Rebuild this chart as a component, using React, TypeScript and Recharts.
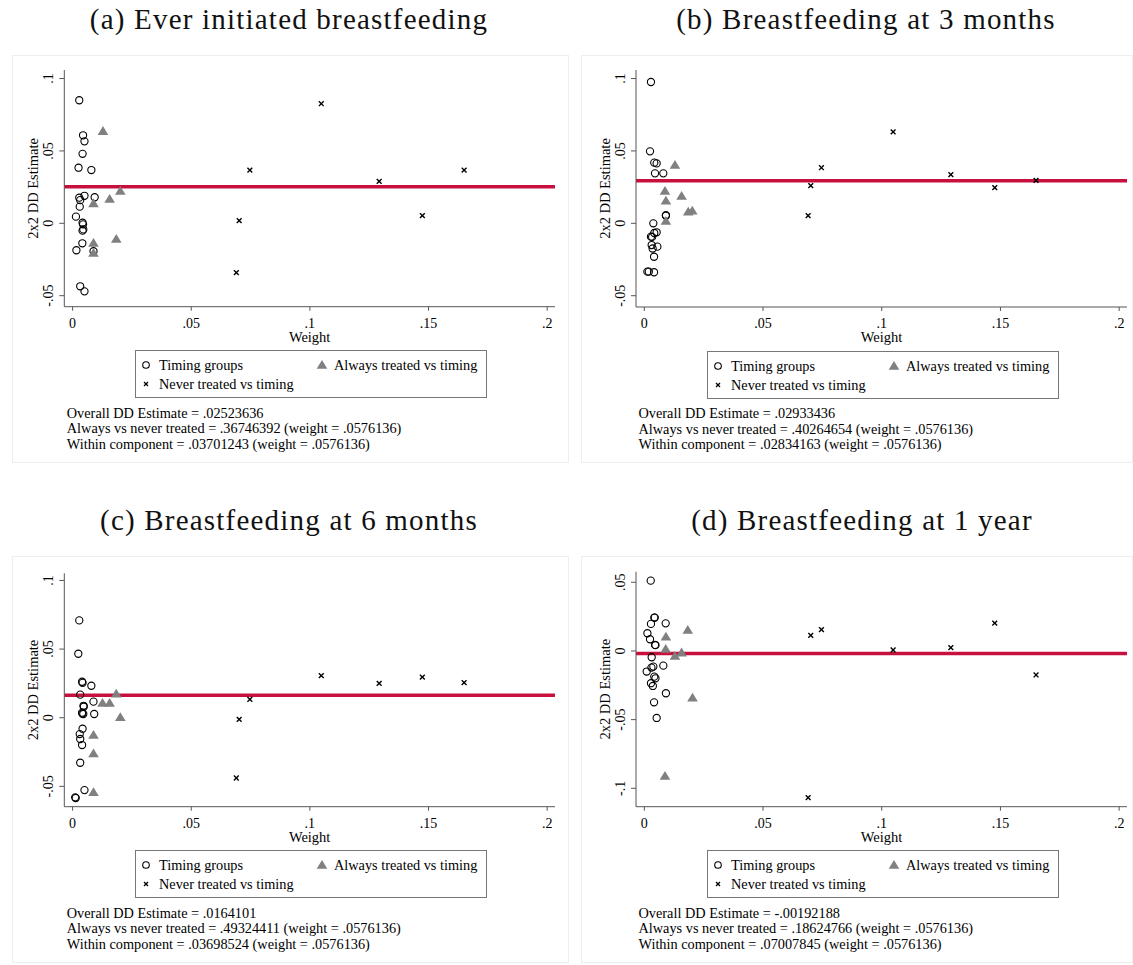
import React from 'react';
import { ScatterChart, Scatter, XAxis, YAxis, ReferenceLine, Label } from 'recharts';

const SERIF = '"Liberation Serif", "Times New Roman", serif';
const RED = '#c8103e';
const GREY = '#808080';
const AXIS = '#555';

// weight, 2x2 estimate
// (a) Ever initiated breastfeeding
const aTiming: [number, number][] = [
  [0.0028, 0.085], [0.0044, 0.0608], [0.005, 0.0566], [0.0042, 0.048], [0.0025, 0.0384],
  [0.0079, 0.0368], [0.005, 0.019], [0.0093, 0.018], [0.0028, 0.0177], [0.0032, 0.016],
  [0.003, 0.0115], [0.0014, 0.0046], [0.0042, 0.0004], [0.0044, -0.0007], [0.0042, -0.0051],
  [0.0045, -0.0042], [0.0041, -0.0138], [0.0016, -0.0186], [0.0088, -0.0193], [0.0032, -0.0435],
  [0.005, -0.047],
];
const aAlways: [number, number][] = [
  [0.0128, 0.0637], [0.0201, 0.0223], [0.0156, 0.0168], [0.0088, 0.0138], [0.0088, -0.0136],
  [0.0184, -0.0108], [0.0088, -0.0205],
];
const aNever: [number, number][] = [
  [0.1048, 0.0826], [0.0747, 0.0368], [0.1292, 0.029], [0.165, 0.0368], [0.0702, 0.0018],
  [0.1474, 0.0053], [0.069, -0.0341],
];
const aOverall = 0.02523636;
const aNotes = [
  'Overall DD Estimate = .02523636',
  'Always vs never treated = .36746392 (weight = .0576136)',
  'Within component = .03701243 (weight = .0576136)',
];

// (b) Breastfeeding at 3 months
const bTiming: [number, number][] = [
  [0.0028, 0.0976], [0.0024, 0.0497], [0.0042, 0.0419], [0.0052, 0.0414], [0.0045, 0.0345],
  [0.008, 0.0345], [0.0091, 0.0057], [0.0091, 0.0052], [0.0038, 0.0], [0.0052, -0.0062],
  [0.0028, -0.0092], [0.0033, -0.0094], [0.0042, -0.0067], [0.0031, -0.015], [0.0055, -0.0161],
  [0.0035, -0.0174], [0.0041, -0.0231], [0.0013, -0.0334], [0.0019, -0.0334], [0.0041, -0.0338],
];
const bAlways: [number, number][] = [
  [0.0129, 0.0403], [0.0087, 0.0223], [0.0157, 0.0189], [0.0091, 0.0156], [0.0185, 0.008],
  [0.0202, 0.0087], [0.0091, 0.0016],
];
const bNever: [number, number][] = [
  [0.1048, 0.0631], [0.0746, 0.0384], [0.0701, 0.026], [0.1291, 0.0336], [0.1476, 0.0246],
  [0.165, 0.0297], [0.069, 0.0053],
];
const bOverall = 0.02933436;
const bNotes = [
  'Overall DD Estimate = .02933436',
  'Always vs never treated = .40264654 (weight = .0576136)',
  'Within component = .02834163 (weight = .0576136)',
];

// (c) Breastfeeding at 6 months
const cTiming: [number, number][] = [
  [0.0028, 0.0709], [0.0024, 0.0466], [0.004, 0.0262], [0.0042, 0.0254], [0.0079, 0.0233],
  [0.0032, 0.0168], [0.0088, 0.0117], [0.0046, 0.0087], [0.0047, 0.008], [0.004, 0.0037],
  [0.0041, 0.003], [0.0045, 0.0027], [0.0091, 0.0027], [0.0042, -0.008], [0.003, -0.0119],
  [0.0032, -0.0155], [0.004, -0.0199], [0.0032, -0.0328], [0.005, -0.0527], [0.0011, -0.058],
  [0.0013, -0.0585],
];
const cAlways: [number, number][] = [
  [0.0184, 0.0175], [0.0126, 0.0107], [0.0156, 0.0107], [0.0201, 0.0003], [0.0088, -0.0126],
  [0.0088, -0.026], [0.0088, -0.0543],
];
const cNever: [number, number][] = [
  [0.1048, 0.0306], [0.1292, 0.025], [0.1474, 0.0296], [0.165, 0.0255], [0.0747, 0.0134],
  [0.0702, -0.0012], [0.069, -0.0439],
];
const cOverall = 0.0164101;
const cNotes = [
  'Overall DD Estimate = .0164101',
  'Always vs never treated = .49324411 (weight = .0576136)',
  'Within component = .03698524 (weight = .0576136)',
];

// (d) Breastfeeding at 1 year
const dTiming: [number, number][] = [
  [0.0027, 0.0512], [0.0042, 0.0243], [0.0044, 0.0243], [0.009, 0.0201], [0.0028, 0.0197],
  [0.0013, 0.0129], [0.0024, 0.0085], [0.0045, 0.0044], [0.0047, 0.0042], [0.0031, -0.0046],
  [0.008, -0.0107], [0.0038, -0.0114], [0.003, -0.0121], [0.001, -0.015], [0.0042, -0.0187],
  [0.0047, -0.0199], [0.0028, -0.0235], [0.0036, -0.0255], [0.0091, -0.0308], [0.0041, -0.0374],
  [0.0052, -0.0488],
];
const dAlways: [number, number][] = [
  [0.0183, 0.0153], [0.0091, 0.0104], [0.009, 0.0015], [0.0157, -0.0012], [0.0129, -0.0036],
  [0.0203, -0.034], [0.0087, -0.091],
];
const dNever: [number, number][] = [
  [0.0701, 0.0114], [0.0746, 0.0155], [0.1048, 0.0007], [0.1291, 0.0024], [0.1476, 0.0202],
  [0.165, -0.0175], [0.069, -0.1068],
];
const dOverall = -0.00192188;
const dNotes = [
  'Overall DD Estimate = -.00192188',
  'Always vs never treated = .18624766 (weight = .0576136)',
  'Within component = .07007845 (weight = .0576136)',
];

const xTicks = [0, 0.05, 0.1, 0.15, 0.2];
const yTicksHigh = [-0.05, 0, 0.05, 0.1];
const yTicksLow = [-0.1, -0.05, 0, 0.05];

const PANELS = [
  {
    title: '(a) Ever initiated breastfeeding', timing: aTiming, always: aAlways, never: aNever,
    overall: aOverall, notes: aNotes, yTicks: yTicksHigh, yDomain: [-0.0576, 0.1059],
    box: { x: 12, y: 55, w: 557, h: 408 }, plot: { x0: 64.3, x1: 555, y0: 70, y1: 306.7 }, titleX: 289,
  },
  {
    title: '(b) Breastfeeding at 3 months', timing: bTiming, always: bAlways, never: bNever,
    overall: bOverall, notes: bNotes, yTicks: yTicksHigh, yDomain: [-0.0578, 0.1059],
    box: { x: 581, y: 55, w: 552, h: 408 }, plot: { x0: 636, x1: 1127, y0: 70, y1: 307 }, titleX: 866,
  },
  {
    title: '(c) Breastfeeding at 6 months', timing: cTiming, always: cAlways, never: cNever,
    overall: cOverall, notes: cNotes, yTicks: yTicksHigh, yDomain: [-0.0648, 0.1052],
    box: { x: 12, y: 556, w: 557, h: 407 }, plot: { x0: 64.3, x1: 555, y0: 573.3, y1: 806.7 }, titleX: 289,
  },
  {
    title: '(d) Breastfeeding at 1 year', timing: dTiming, always: dAlways, never: dNever,
    overall: dOverall, notes: dNotes, yTicks: yTicksLow, yDomain: [-0.1134, 0.0577],
    box: { x: 581, y: 556, w: 552, h: 407 }, plot: { x0: 636, x1: 1127, y0: 571.7, y1: 806.7 }, titleX: 862,
  },
];

const fmtTick = (v: number) => (v === 0 ? '0' : String(v).replace('0.', '.'));
const toPts = (arr: [number, number][]) => arr.map(([w, est]) => ({ w, est }));

const HollowCircle = (p: any) => (
  <circle cx={p.cx} cy={p.cy} r={3.6} fill="none" stroke="#000" strokeWidth={1.1} />
);
const Tri = (p: any) => (
  <polygon
    points={`${p.cx},${p.cy - 5} ${p.cx + 5.3},${p.cy + 3.8} ${p.cx - 5.3},${p.cy + 3.8}`}
    fill={GREY}
  />
);
const Cross = (p: any) => (
  <g stroke="#000" strokeWidth={1.4}>
    <line x1={p.cx - 2.4} y1={p.cy - 2.4} x2={p.cx + 2.4} y2={p.cy + 2.4} />
    <line x1={p.cx - 2.4} y1={p.cy + 2.4} x2={p.cx + 2.4} y2={p.cy - 2.4} />
  </g>
);

const YTick = (props: any) => {
  const { x, y, payload } = props;
  const bx = x - 4;
  return (
    <text x={bx} y={y} transform={`rotate(-90 ${bx} ${y})`} textAnchor="middle"
      fontSize={14} fontFamily={SERIF} fill="#000">
      {fmtTick(payload.value)}
    </text>
  );
};

const YLabel = (props: any) => {
  const vb = props.viewBox;
  const x = vb.x + vb.width - 26;
  const y = vb.y + vb.height / 2;
  return (
    <text x={x} y={y} transform={`rotate(-90 ${x} ${y})`} textAnchor="middle"
      fontSize={14.5} fontFamily={SERIF} fill="#000">
      2x2 DD Estimate
    </text>
  );
};

const XLabel = (props: any) => {
  const vb = props.viewBox;
  return (
    <text x={vb.x + vb.width / 2} y={vb.y + 35} textAnchor="middle"
      fontSize={14.5} fontFamily={SERIF} fill="#000">
      Weight
    </text>
  );
};

function LegendBox({ left, top }: { left: number; top: number }) {
  const fs = 14.3;
  return (
    <svg width={352} height={48} style={{ position: 'absolute', left, top }}>
      <rect x={0.5} y={0.5} width={351} height={47} fill="#fff" stroke="#777" />
      <circle cx={11} cy={15} r={3.3} fill="none" stroke="#000" strokeWidth={1.1} />
      <text x={24} y={20} fontSize={fs} fontFamily={SERIF}>Timing groups</text>
      <polygon points="187,10 192.3,18.8 181.7,18.8" fill={GREY} />
      <text x={199} y={20} fontSize={fs} fontFamily={SERIF}>Always treated vs timing</text>
      <g stroke="#000" strokeWidth={1.3}>
        <line x1={9} y1={32} x2={13} y2={36} />
        <line x1={9} y1={36} x2={13} y2={32} />
      </g>
      <text x={24} y={39} fontSize={fs} fontFamily={SERIF}>Never treated vs timing</text>
    </svg>
  );
}

function Panel({ p }: { p: (typeof PANELS)[number] }) {
  const { box, plot } = p;
  const axisW = plot.x0 - box.x;
  const top = plot.y0 - box.y;
  const right = box.x + box.w - plot.x1;
  const xAxisH = 50;
  const height = plot.y1 - box.y + xAxisH;
  return (
    <>
      <div
        style={{
          position: 'absolute', left: p.titleX - 300, top: box.y - 52, width: 600,
          textAlign: 'center', fontSize: 29, lineHeight: '32px', letterSpacing: 1.2,
          fontFamily: SERIF, color: '#111',
        }}
      >
        {p.title}
      </div>
      <div
        style={{
          position: 'absolute', left: box.x, top: box.y, width: box.w, height: box.h,
          border: '1px solid #eeeeee', boxSizing: 'border-box',
        }}
      />
      <div style={{ position: 'absolute', left: box.x, top: box.y }}>
        <ScatterChart width={box.w} height={height} margin={{ top, right, bottom: 0, left: 0 }}>
          <XAxis
            type="number" dataKey="w" domain={[-0.0035, 0.2033]} ticks={xTicks}
            tickFormatter={fmtTick} allowDataOverflow height={xAxisH}
            tickSize={4} tickMargin={7} stroke={AXIS}
            tick={{ fill: '#000', fontSize: 14, fontFamily: SERIF }}
            label={<Label content={XLabel} />}
          />
          <YAxis
            type="number" dataKey="est" domain={p.yDomain} ticks={p.yTicks}
            allowDataOverflow width={axisW} tickSize={5} stroke={AXIS}
            tick={YTick} label={<Label content={YLabel} />}
          />
          <ReferenceLine y={p.overall} stroke={RED} strokeWidth={3.5} />
          <Scatter data={toPts(p.timing)} shape={HollowCircle} isAnimationActive={false} />
          <Scatter data={toPts(p.always)} shape={Tri} isAnimationActive={false} />
          <Scatter data={toPts(p.never)} shape={Cross} isAnimationActive={false} />
        </ScatterChart>
      </div>
      <LegendBox left={plot.x0 + 71} top={plot.y1 + 43.5} />
      <div
        style={{
          position: 'absolute', left: plot.x0 + 2.5, top: plot.y1 + 99, fontSize: 14.3,
          lineHeight: '15.7px', fontFamily: SERIF, color: '#000', whiteSpace: 'nowrap',
        }}
      >
        {p.notes.map((n) => (
          <div key={n}>{n}</div>
        ))}
      </div>
    </>
  );
}

export default function App() {
  return (
    <div
      style={{
        position: 'absolute', left: 0, top: 0, width: 1133, height: 965,
        background: '#fff', overflow: 'hidden',
      }}
    >
      {PANELS.map((p) => (
        <Panel key={p.title} p={p} />
      ))}
    </div>
  );
}
